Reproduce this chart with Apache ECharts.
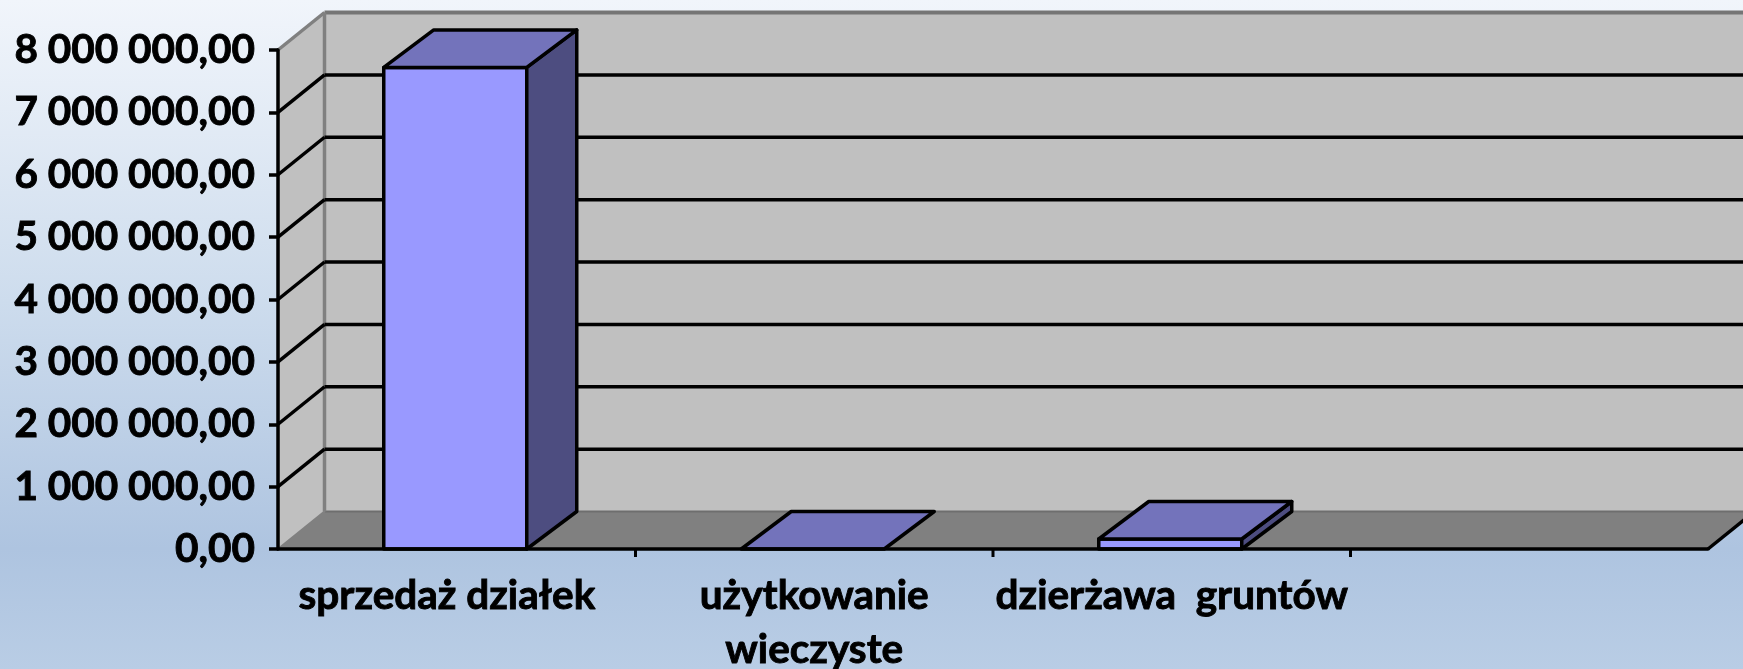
<!DOCTYPE html>
<html><head><meta charset="utf-8">
<style>html,body{margin:0;padding:0;background:#b8cce4}#c{width:1743px;height:669px}</style>
<script src="https://cdn.jsdelivr.net/npm/echarts@6/dist/echarts.min.js"></script></head>
<body><div id="c"></div>
<script>
const categories = ['sprzedaż działek\u00A0\u00A0', 'użytkowanie\nwieczyste', 'dzierżawa  gruntów', ''];
const barValues = [7720000, 0, 160000];
const yTicks = [0, 1000000, 2000000, 3000000, 4000000, 5000000, 6000000, 7000000, 8000000];
const yTickLabels = ['0,00', '1 000 000,00', '2 000 000,00', '3 000 000,00', '4 000 000,00', '5 000 000,00', '6 000 000,00', '7 000 000,00', '8 000 000,00'];

const WALL_DX = 46.5, WALL_DY = 37.5, BAR_DX = 50, BAR_DY = 37.5, BAR_SHIFT = -1.5;
const FONT = 'Lato, "Open Sans", sans-serif';

function poly(points, fill, stroke, lw) {
  return { type: 'polygon', shape: { points }, style: { fill, stroke: stroke || null, lineWidth: lw || 0, lineJoin: 'round' } };
}
function line(a, b, stroke, lw) {
  return { type: 'line', shape: { x1: a[0], y1: a[1], x2: b[0], y2: b[1] }, style: { stroke, lineWidth: lw, lineCap: 'butt' } };
}
const d = (p) => [p[0] + WALL_DX, p[1] - WALL_DY];

function renderWalls(params, api) {
  const cs = params.coordSys;
  const xL = cs.x, xR = cs.x + cs.width;
  const y0 = api.coord([0, 0])[1], yT = api.coord([0, 8000000])[1];
  const o = [xL, y0], r = [xR, y0], t = [xL, yT], rt = [xR, yT];
  return { type: 'group', children: [
    poly([d(t), d(rt), d(r), d(o)], '#c0c0c0'),
    poly([t, d(t), d(o), o], '#c0c0c0'),
    poly([o, r, d(r), d(o)], '#808080'),
    line(d(t), d(rt), '#757575', 4),
    line(d(o), d(r), '#6e6e6e', 2),
    line(d(t), d(o), '#808080', 3.5),
    line(t, d(t), '#808080', 3.5),
    line(o, d(o), '#808080', 2),
    line(r, d(r), '#000000', 3.5)
  ] };
}
function renderGrid(params, api) {
  const v = api.value(0);
  if (v === 0 || v === 8000000) return { type: 'group', children: [] };
  const cs = params.coordSys;
  const y = api.coord([0, v])[1];
  const a = [cs.x, y], b = [cs.x + cs.width, y];
  return { type: 'group', children: [line(a, d(a), '#000000', 3.5), line(d(a), d(b), '#000000', 3.5)] };
}
function renderBar(params, api) {
  const i = api.value(0), v = api.value(1);
  const w = api.size([1, 0])[0] * 0.4;
  const base = api.coord([i, 0]), top = api.coord([i, v]);
  const l = base[0] - w / 2 + BAR_SHIFT, r = base[0] + w / 2 + BAR_SHIFT;
  const y0 = base[1], y1 = top[1];
  const c = [];
  const S = '#000000', LW = 3.5;
  if (v > 0) {
    c.push(poly([[l, y1], [r, y1], [r, y0], [l, y0]], '#9999ff', S, LW));
    c.push(poly([[r, y1], [r + BAR_DX, y1 - BAR_DY], [r + BAR_DX, y0 - BAR_DY], [r, y0]], '#4d4d80', S, LW));
  }
  c.push(poly([[l, y1], [l + BAR_DX, y1 - BAR_DY], [r + BAR_DX, y1 - BAR_DY], [r, y1]], '#7373bb', S, LW));
  return { type: 'group', children: c };
}
function renderXTick(params, api) {
  const i = api.value(0);
  const p = api.coord([i, 0]);
  const x = p[0] + api.size([1, 0])[0] / 2;
  return line([x, p[1]], [x, p[1] + 8], '#000000', 3);
}

const chart = echarts.init(document.getElementById('c'), null, { renderer: 'canvas' });
chart.setOption({
  animation: false,
  backgroundColor: { type: 'linear', x: 0, y: 0, x2: 0, y2: 1, colorStops: [
    { offset: 0, color: '#f1f5fb' }, { offset: 0.45, color: '#cddced' },
    { offset: 0.82, color: '#aec4e0' }, { offset: 1, color: '#b9cde5' } ] },
  grid: { left: 278, right: 35, top: 50, bottom: 120, outerBoundsMode: 'none', containLabel: false },
  xAxis: { type: 'category', data: categories, z: 10,
    axisLine: { show: true, lineStyle: { color: '#000', width: 3.5 } },
    axisTick: { show: false },
    axisLabel: { interval: 0, color: '#000', fontFamily: FONT, fontWeight: 'bold', fontSize: 40.5, lineHeight: 54, margin: 20,
      textBorderColor: '#000', textBorderWidth: 0.9 } },
  yAxis: { type: 'value', min: 0, max: 8000000, interval: 1000000, z: 10,
    splitLine: { show: false },
    axisLine: { show: true, lineStyle: { color: '#000', width: 3.5 } },
    axisTick: { show: true, length: 9, lineStyle: { color: '#000', width: 3.5 } },
    axisLabel: { color: '#000', fontFamily: FONT, fontWeight: 'bold', fontSize: 40.5, margin: 23, padding: [0, 0, 4, 0],
      textBorderColor: '#000', textBorderWidth: 0.9,
      formatter: (v) => yTickLabels[yTicks.indexOf(v)] } },
  series: [
    { type: 'custom', z: 1, silent: true, renderItem: renderWalls, data: [[0]], encode: { x: 0 } },
    { type: 'custom', z: 2, silent: true, renderItem: renderGrid, data: yTicks.map(v => [v]), encode: { y: 0 } },
    { type: 'custom', z: 3, silent: true, renderItem: renderBar, data: barValues.map((v, i) => [i, v]), encode: { x: 0, y: 1 } },
    { type: 'custom', z: 11, silent: true, renderItem: renderXTick, data: [[0], [1], [2]], encode: { x: 0 } }
  ]
});
</script></body></html>
